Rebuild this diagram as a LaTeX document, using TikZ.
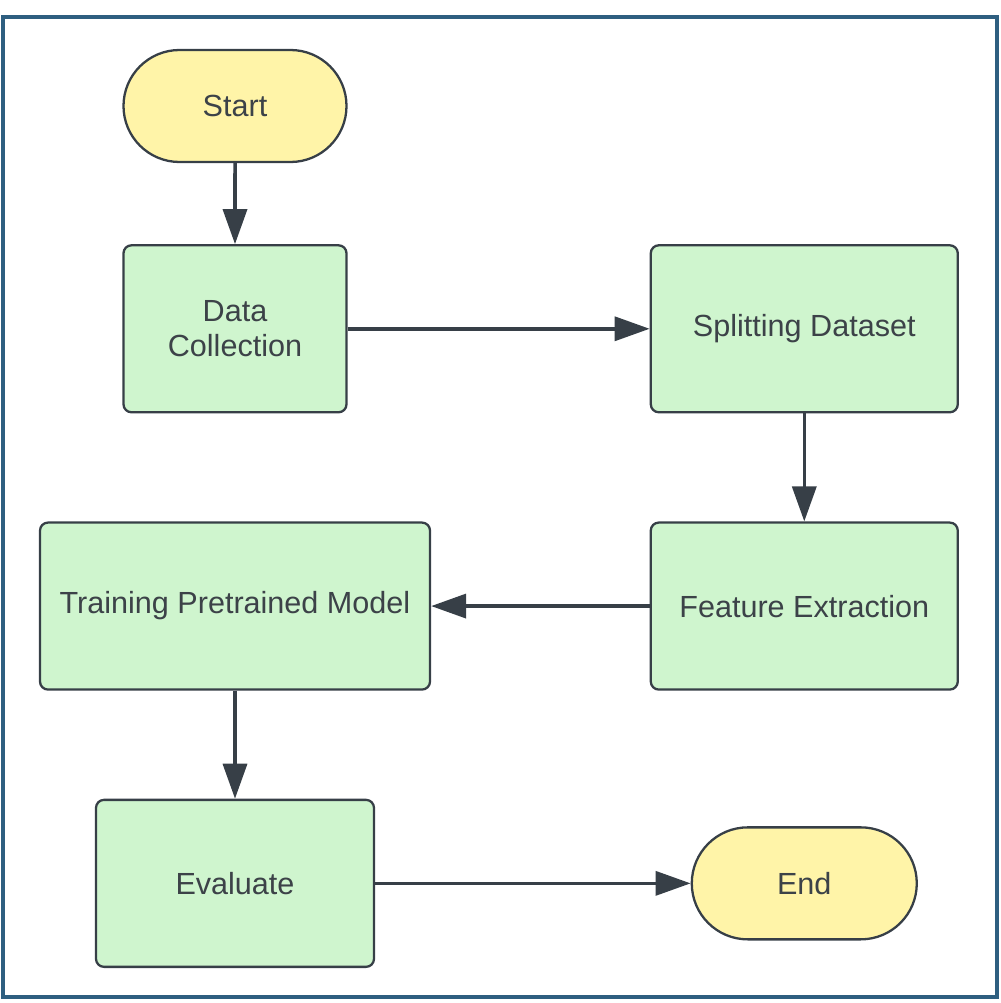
\documentclass[tikz,border=0pt]{standalone}
\usepackage{fontspec}
\setsansfont{Liberation Sans}
\usepackage{tikz}
\usetikzlibrary{positioning}
\usetikzlibrary{shapes.misc,arrows.meta}

\definecolor{frameblue}{HTML}{2E5F80}
\definecolor{edgegrey}{HTML}{373F47}
\definecolor{textgrey}{HTML}{3C4248}
\definecolor{boxgreen}{HTML}{CFF5CE}
\definecolor{termyellow}{HTML}{FFF4A8}

\tikzset{
  stepbox/.style={draw=edgegrey,line width=1.3pt,fill=boxgreen,rounded corners=0.16cm,
    minimum height=3.34cm,align=center,inner sep=0pt},
  terminal/.style={draw=edgegrey,line width=1.3pt,fill=termyellow,rounded rectangle,
    minimum height=2.24cm,inner sep=0pt},
  flow/.style={draw=edgegrey,line width=2pt,->}
}

\begin{document}
\begin{tikzpicture}[>={Triangle[length=7mm,width=4.8mm]},font=\sffamily\fontsize{17.4}{21}\selectfont,text=textgrey]
    \useasboundingbox (0,0) rectangle (20,-20.06);
    \draw [frameblue,line width=2.2pt] (0.06,-0.34) rectangle (19.94,-19.94);
    \node (S) [terminal,minimum width=4.46cm] at (4.7,-2.12) {Start};
    \node (DC) [stepbox,minimum width=4.46cm,below=1.62cm of S] {Data\\[-0.05cm]Collection};
    \node (SD) [stepbox,minimum width=6.14cm,right=6.04cm of DC] {Splitting Dataset};
    \node (FE) [stepbox,minimum width=6.14cm,below=2.16cm of SD] {Feature Extraction};
    \node (TP) [stepbox,minimum width=7.8cm] at (DC |- FE) {Training Pretrained Model};
    \node (EV) [stepbox,minimum width=5.56cm,below=2.16cm of TP] {Evaluate};
    \node (E) [terminal,minimum width=4.5cm] at (SD |- EV) {End};
    \draw [flow] (S) -- (DC);
    \draw [flow] (DC) -- (SD);
    \draw [flow] (SD) -- (FE);
    \draw [flow] (FE) -- (TP);
    \draw [flow] (TP) -- (EV);
    \draw [flow] (EV) -- (E);
\end{tikzpicture}
\end{document}
